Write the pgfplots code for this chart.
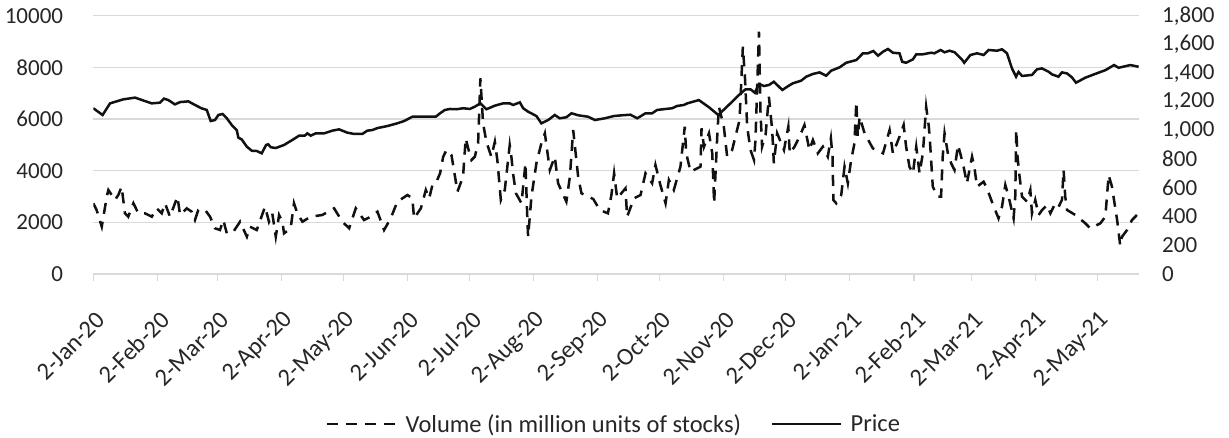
\documentclass[border=0pt]{standalone}
\usepackage{fontspec}
\setmainfont{Carlito}
\usepackage{pgfplots}
\pgfplotsset{compat=1.18}
\definecolor{txt}{HTML}{262626}
\definecolor{grd}{HTML}{D9D9D9}
\definecolor{ln}{HTML}{111111}
\begin{document}
\begin{tikzpicture}[x=1pt,y=1pt]
\useasboundingbox (0,0) rectangle (1229,438);
\pgfplotsset{
  every axis/.append style={
    scale only axis, width=1045.7pt, height=258.3pt,
    at={(93.3pt,164pt)}, anchor=south west,
    xmin=0, xmax=506,
    scaled y ticks=false,
    /pgf/number format/assume math mode=true,
    tick label style={font=\fontsize{23}{27}\selectfont, text=txt},
  },
}
\begin{axis}[
  ymin=0, ymax=10000,
  ytick={0,2000,...,10000},
  /pgf/number format/1000 sep={},
  axis x line*=bottom, axis y line*=left,
  x axis line style={draw=grd, line width=1.5pt, -},
  y axis line style={draw=none},
  xtick={0,31,60,91,121,152,182,213,244,274,305,335,366,397,425,456,486},
  xticklabels={2-Jan-20,2-Feb-20,2-Mar-20,2-Apr-20,2-May-20,2-Jun-20,2-Jul-20,2-Aug-20,2-Sep-20,2-Oct-20,2-Nov-20,2-Dec-20,2-Jan-21,2-Feb-21,2-Mar-21,2-Apr-21,2-May-21},
  xtick style={draw=grd, line width=1.5pt},
  tick align=outside, major tick length=7pt,
  xticklabel style={font=\fontsize{24.5}{28}\selectfont, rotate=45, anchor=east, inner sep=0pt, xshift=-19.3pt, yshift=-30.2pt},
  ymajorgrids, grid style={draw=grd, line width=1.5pt},
  ytick style={draw=none},
  yticklabel style={anchor=east, inner sep=0pt, xshift=-23pt},
  legend style={at={(0.498,-0.581)}, anchor=center, draw=none, fill=none,
    font=\fontsize{24.5}{28}\selectfont, text=txt, legend columns=2,
    /tikz/every odd column/.append style={column sep=6pt},
    /tikz/every even column/.append style={column sep=28pt},
    legend cell align=left},
  legend image code/.code={\draw[#1] (0pt,0pt) -- (69pt,0pt);},
]
\addplot[ln, line width=2.5pt, dash pattern=on 11pt off 8pt] coordinates {
(0,2737)(1.6,2477)(4.1,1831)(6.5,2992)(7.3,3252)(10.5,2865)(12.1,3058)(13.7,3380)(15.3,2350)(16.9,2218)
(19.4,2737)(21.8,2350)(25.0,2350)(28.3,2218)(30.7,2543)(33.1,2350)(34.7,2737)(37.1,2218)(40.7,2992)(42.0,2284)
(45.2,2543)(47.6,2412)(49.2,2090)(50.8,2477)(54.1,2477)(56.5,2218)(58.9,1769)(61.3,1703)(62.9,2090)(64.6,1575)
(67.8,1637)(71.0,2025)(74.3,1444)(75.8,1831)(79.1,1703)(83.1,2605)(85.0,2025)(86.6,2350)(88.3,1444)(89.9,2284)
(91.5,2025)(92.3,1575)(95.5,1769)(97.1,2737)(98.7,2350)(101.2,2025)(105.2,2218)(110.8,2284)(116.5,2543)(120.5,2025)
(123.8,1769)(127.0,2543)(131.0,2090)(134.3,2218)(137.5,2412)(140.7,1703)(143.9,2154)(147.1,2799)(152.0,3058)(154.4,2928)
(155.2,2154)(158.5,2543)(160.9,3252)(162.5,2928)(164.1,3445)(165.7,3511)(167.8,3898)(169.3,4541)(170.9,4800)(173.3,4606)
(174.9,3832)(176.2,3186)(178.9,3767)(180.2,5253)(181.6,4800)(183.0,4413)(184.6,4541)(186.2,5059)(187.3,7576)(188.6,5833)
(190.2,5121)(192.6,4541)(194.3,5121)(195.5,4413)(197.2,2865)(199.1,3252)(201.5,4993)(202.3,4541)(203.1,3898)(204.5,3124)
(207.2,2737)(209.1,4285)(210.1,1963)(210.4,1444)(212.0,2992)(214.4,4285)(216.8,5059)(218.5,5446)(220.9,4026)(223.3,4541)
(224.9,3511)(228.9,2799)(230.6,3767)(232.2,5574)(234.6,3767)(236.2,3124)(241.9,2903)(245.1,2477)(249.0,2350)(250.7,3058)
(252.0,3898)(253.5,2928)(257.5,3317)(258.3,2218)(261.6,2928)(264.8,3058)(267.2,3898)(270.4,3511)(272.0,4219)(274.4,3445)
(276.9,2737)(278.5,3639)(280.9,3252)(284.1,4154)(286.2,5702)(286.9,4672)(289.0,3960)(293.8,4154)(294.3,5640)(295.5,4928)
(297.9,5446)(299.5,4672)(300.4,2737)(301.9,5315)(302.7,6476)(305.1,5702)(306.7,4541)(309.1,4800)(311.1,5446)(312.7,5961)
(314.3,8799)(315.3,7638)(316.4,5702)(318.0,4800)(319.7,4413)(320.4,5187)(322.1,9380)(322.8,6348)(323.6,4928)(325.3,5381)
(326.9,6863)(328.5,5574)(329.3,4285)(330.9,5446)(334.2,4800)(336.3,5702)(337.0,4672)(339.3,4928)(341.7,5315)(344.1,5768)
(346.5,4800)(348.2,5187)(350.6,4672)(353.0,4928)(355.4,4541)(356.9,5253)(357.7,4541)(358.1,2865)(359.5,2737)(361.9,3058)
(363.5,4154)(365.1,3511)(366.7,4413)(368.3,5059)(369.2,6670)(369.9,5315)(370.8,6089)(373.2,5446)(377.2,4864)(382.1,4672)
(385.3,5574)(386.9,4672)(390.1,5315)(392.1,5768)(393.3,4928)(394.9,4154)(396.6,3898)(398.2,4928)(399.8,3898)(401.4,4672)
(403.0,6476)(404.3,5702)(404.9,5059)(406.2,3380)(408.6,2992)(410.2,2992)(411.0,4541)(411.9,5446)(413.5,4672)(415.1,4285)
(416.7,4026)(418.4,4993)(419.5,4672)(421.1,4154)(422.7,3511)(425.2,4541)(426.3,4154)(427.6,3380)(430.8,3573)(432.4,3317)
(434.8,2799)(438.0,2154)(439.7,2605)(441.3,3445)(442.9,2992)(445.3,2154)(446.1,2992)(446.6,5574)(447.2,4541)(448.2,3767)
(449.4,2992)(451.8,2799)(453.4,3252)(454.2,2350)(455.8,2865)(457.4,2284)(459.1,2477)(461.5,2672)(463.1,2350)(465.5,2737)
(467.1,2605)(468.7,2865)(469.5,4026)(470.3,2992)(471.2,2477)(475.2,2284)(480.0,1963)(482.4,1769)(484.0,1831)(487.3,1963)
(489.7,2218)(491.3,3832)(492.9,3380)(495.4,2090)(496.9,1100)(497.8,1444)(500.2,1703)(502.6,2090)(505.0,2284)
};
\addlegendentry{Volume (in million units of stocks)}
\addlegendimage{ln, line width=2.5pt}
\addlegendentry{Price}
\end{axis}
\begin{axis}[
  ymin=0, ymax=1800,
  ytick={0,200,...,1800},
  /pgf/number format/1000 sep={,},
  axis x line=none, axis y line*=right,
  y axis line style={draw=none},
  ytick style={draw=none},
  yticklabel style={anchor=west, inner sep=0pt, xshift=23pt},
]
\addplot[ln, line width=2.5pt] coordinates {
(0,1155)(4.5,1108)(8.1,1189)(14.5,1217)(20.2,1229)(25.0,1205)(28.3,1189)(32.3,1194)(34.2,1222)(36.3,1212)
(39.5,1182)(42.0,1198)(46.0,1203)(49.2,1178)(52.3,1155)(54.9,1143)(56.8,1066)(58.9,1073)(60.5,1108)(62.6,1115)
(64.6,1085)(67.0,1038)(69.4,1003)(70.2,950)(71.8,938)(74.3,887)(76.7,859)(79.1,857)(81.5,841)(83.6,899)
(84.6,904)(85.9,883)(88.3,878)(92.3,899)(96.3,934)(99.6,964)(102.3,964)(103.6,980)(105.2,964)(107.6,980)
(111.7,980)(115.7,999)(118.9,1008)(122.9,985)(126.2,976)(130.2,976)(132.6,999)(135.0,1003)(137.5,1017)(142.3,1031)
(147.1,1050)(150.4,1066)(154.4,1096)(158.5,1096)(165.7,1096)(167.8,1120)(170.1,1143)(172.5,1150)(175.7,1148)(179.0,1155)
(182.2,1150)(184.6,1166)(187.3,1189)(190.2,1148)(194.3,1173)(198.3,1189)(201.5,1189)(203.1,1178)(206.4,1196)(208.0,1155)
(210.4,1131)(214.4,1101)(216.8,1050)(220.1,1073)(223.3,1108)(225.7,1085)(228.9,1092)(231.4,1120)(234.6,1106)(239.4,1096)
(242.7,1073)(247.5,1085)(252.0,1101)(255.9,1106)(259.9,1110)(263.2,1085)(267.2,1120)(270.4,1120)(272.8,1143)(276.9,1150)
(280.1,1155)(282.5,1171)(285.8,1178)(287.4,1189)(293.0,1212)(297.9,1162)(302.4,1108)(307.5,1178)(312.4,1247)(315.6,1287)
(318.0,1287)(320.1,1263)(322.1,1324)(324.5,1310)(326.9,1317)(329.3,1340)(333.4,1282)(336.3,1310)(338.5,1329)(342.5,1347)
(345.0,1375)(348.2,1394)(351.4,1405)(354.6,1382)(357.1,1417)(361.1,1440)(364.3,1472)(369.2,1491)(372.4,1538)(374.8,1538)
(377.5,1554)(379.7,1521)(382.1,1549)(384.5,1568)(386.9,1542)(390.1,1538)(391.4,1479)(393.3,1472)(396.6,1496)(398.2,1531)
(401.4,1531)(405.4,1542)(407.0,1538)(410.0,1561)(411.9,1545)(414.3,1556)(416.8,1545)(420.5,1491)(421.4,1472)(424.4,1526)
(427.6,1538)(430.8,1526)(433.2,1561)(437.3,1556)(439.7,1566)(442.1,1538)(444.5,1433)(446.5,1375)(447.7,1408)(449.4,1380)
(454.2,1387)(456.6,1426)(459.0,1433)(462.2,1410)(463.9,1391)(467.0,1375)(468.7,1405)(471.1,1398)(473.5,1371)(475.5,1333)
(480.0,1368)(484.2,1391)(489.8,1421)(493.9,1456)(496.1,1437)(501.8,1456)(505.8,1444)
};
\end{axis}
\end{tikzpicture}
\end{document}
